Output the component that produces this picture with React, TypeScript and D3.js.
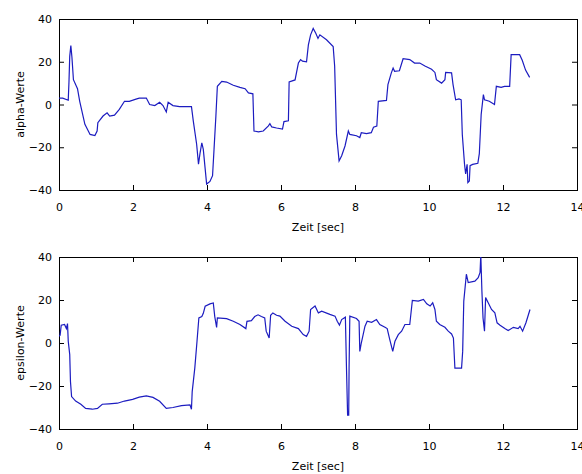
import React, { useEffect, useRef } from 'react';
import * as d3 from 'd3';

// alpha-Werte (oberer Plot)
const alphaTime = [
  0, 0.1, 0.25, 0.27, 0.29, 0.32, 0.35, 0.39, 0.5, 0.56, 0.7, 0.84, 0.97, 1.03, 1.05, 1.19, 1.3, 1.37, 1.5, 1.63,
  1.77, 1.9, 2.08, 2.17, 2.36, 2.45, 2.59, 2.72, 2.81, 2.9, 2.95, 3.08, 3.26, 3.58, 3.63, 3.72, 3.77, 3.81, 3.86, 3.9,
  3.95, 3.99, 4.08, 4.15, 4.19, 4.24, 4.28, 4.4, 4.53, 4.71, 4.89, 5.03, 5.12, 5.24, 5.27, 5.39, 5.52, 5.66, 5.7, 5.75,
  5.88, 6.04, 6.08, 6.2, 6.22, 6.38, 6.47, 6.53, 6.58, 6.69, 6.74, 6.8, 6.87, 6.94, 7.0, 7.05, 7.23, 7.41, 7.45, 7.5,
  7.57, 7.64, 7.73, 7.82, 7.86, 8.04, 8.13, 8.17, 8.31, 8.44, 8.5, 8.59, 8.63, 8.85, 8.89, 8.98, 9.03, 9.07, 9.2, 9.3,
  9.48, 9.61, 9.75, 9.89, 10.07, 10.16, 10.2, 10.34, 10.43, 10.45, 10.61, 10.65, 10.72, 10.81, 10.87, 10.9, 10.96, 10.99, 11.03, 11.05,
  11.09, 11.11, 11.18, 11.32, 11.36, 11.41, 11.47, 11.5, 11.63, 11.77, 11.82, 11.95, 12.04, 12.18, 12.22, 12.45, 12.52, 12.61, 12.72,
];
const alphaValues = [
  3, 3, 2, 10.8, 22.5, 27.6, 22, 11.6, 7.4, 1.5, -9.3, -14, -14.5, -12.4, -8.5, -5.4, -3.9, -5.4, -5, -2.3,
  1.5, 1.5, 2.5, 3, 3, 0, -0.5, 1, -0.5, -3.5, 1, -0.5, -1, -1, -7.8, -18.6, -27.9, -23, -17.9, -21,
  -30, -37.2, -36, -33.3, -21, -5.5, 8.5, 10.8, 10.5, 9, 8, 7.4, 5.4, 5, -12.4, -12.8, -12.4, -10, -9, -10.5,
  -11, -11.5, -8, -7.6, 10.6, 11.5, 19.4, 21, 20.3, 20, 27.9, 32.6, 35.6, 33.3, 30.9, 32.6, 30.3, 27.1, 18, -14,
  -26.4, -24, -19.4, -12.4, -14, -14.6, -15.5, -13.2, -13.6, -13.2, -10.6, -10.1, 1.5, 1.9, 9.3, 14.7, 17, 15.5, 15.8, 21.4,
  21, 19.4, 19.4, 18, 16.5, 15, 11.6, 10, 11.6, 15, 14.8, 9.3, 2.2, 2.6, 2.2, -14, -27.9, -32.5, -28, -36.5,
  -35.8, -28.6, -28, -27.5, -23, -4.7, 4.6, 2.2, 1.5, 0, 8.5, 8, 8.5, 8.5, 23.3, 23.3, 20.7, 16.1, 12.7,
];

// epsilon-Werte (unterer Plot)
const epsilonTime = [
  0, 0.03, 0.06, 0.15, 0.2, 0.23, 0.25, 0.29, 0.31, 0.34, 0.45, 0.59, 0.72, 0.9, 1.04, 1.17, 1.35, 1.58, 1.77, 1.99,
  2.17, 2.36, 2.54, 2.72, 2.9, 3.08, 3.31, 3.54, 3.58, 3.6, 3.67, 3.73, 3.78, 3.86, 3.9, 3.95, 4.08, 4.17, 4.21, 4.26,
  4.28, 4.53, 4.71, 4.89, 5.05, 5.08, 5.2, 5.29, 5.38, 5.47, 5.56, 5.6, 5.68, 5.72, 5.78, 5.88, 5.97, 6.11, 6.29, 6.47,
  6.6, 6.69, 6.76, 6.8, 6.92, 7.01, 7.1, 7.32, 7.46, 7.52, 7.58, 7.64, 7.74, 7.77, 7.8, 7.83, 7.84, 7.86, 8.04, 8.11,
  8.13, 8.17, 8.27, 8.33, 8.45, 8.58, 8.67, 8.81, 8.87, 8.94, 9.02, 9.08, 9.17, 9.26, 9.35, 9.48, 9.55, 9.71, 9.85, 9.94,
  10.03, 10.1, 10.16, 10.2, 10.29, 10.43, 10.52, 10.61, 10.66, 10.7, 10.88, 10.91, 10.94, 11.01, 11.06, 11.24, 11.33, 11.38, 11.4, 11.43,
  11.46, 11.5, 11.53, 11.6, 11.69, 11.78, 11.84, 11.92, 12.05, 12.14, 12.28, 12.41, 12.46, 12.53, 12.62, 12.73,
];
const epsilonValues = [
  3.1, 3.6, 8.3, 8.6, 6.7, 9, 0.8, -5.4, -17.9, -24.9, -27, -28.5, -30.4, -30.8, -30.4, -28.5, -28.3, -28, -27, -26.2,
  -25.2, -24.6, -25.3, -27.1, -30.4, -30, -29.1, -28.8, -30.8, -22.6, -11.7, 0.8, 11.7, 12.3, 13.8, 17.1, 18.2, 18.6, 12.3, 7.2,
  11.7, 11.3, 10.1, 8.6, 6.7, 10.1, 10.4, 12.3, 13.1, 12.3, 11.7, 5.5, 2.3, 12.9, 14, 12.9, 12.5, 10.1, 7.8, 6.7,
  3.9, 3.1, 5.5, 15.6, 17.2, 14, 14.8, 13.3, 12.5, 10.1, 8.3, 10.9, 12, -11.7, -33.5, -33.5, -11.7, 12.5, 11.4, 10.1,
  -3.9, 0, 7.8, 10.1, 9.6, 10.9, 8.6, 7.3, 6.7, 1.6, -3.9, 0.8, 3.9, 5.5, 8.6, 8.6, 19.8, 19.5, 20.3, 18.2,
  17.2, 18.7, 15.6, 10.1, 8.6, 7.3, 5.5, 4.2, 2.3, -11.7, -11.7, -3.9, 19.5, 32, 28.1, 28.8, 30.4, 32.8, 41, 24.1,
  11.7, 5.5, 21.1, 18.7, 15.6, 14, 9.4, 8.3, 6.7, 5.8, 7.3, 6.7, 7.8, 5.5, 9.4, 15.6,
];

const xTicks = [0, 2, 4, 6, 8, 10, 12, 14];
const yTicks = [-40, -20, 0, 20, 40];
const xLabel = 'Zeit [sec]';
const yLabels = ['alpha-Werte', 'epsilon-Werte'];

const App = () => {
  const svgRef = useRef<SVGSVGElement>(null);

  useEffect(() => {
    const width = 582;
    const height = 474;
    const left = 59;
    const right = 577;
    const panels = [
      { top: 19, bottom: 190, time: alphaTime, values: alphaValues, label: yLabels[0] },
      { top: 257, bottom: 429, time: epsilonTime, values: epsilonValues, label: yLabels[1] },
    ];

    const svg = d3.select(svgRef.current)
      .attr('width', width)
      .attr('height', height)
      .style('background-color', '#fff');
    svg.selectAll('*').remove();

    const xScale = d3.scaleLinear().domain([0, 14]).range([left, right]);
    const font = '"DejaVu Sans", sans-serif';

    panels.forEach((p, i) => {
      const yScale = d3.scaleLinear().domain([-40, 40]).range([p.bottom, p.top]);
      const g = svg.append('g');

      const clipId = `clip-${i}`;
      g.append('clipPath').attr('id', clipId)
        .append('rect')
        .attr('x', left).attr('y', p.top)
        .attr('width', right - left).attr('height', p.bottom - p.top);

      const styleAxis = (sel: d3.Selection<SVGGElement, unknown, null, undefined>) => {
        sel.select('.domain').remove();
        sel.selectAll('line').attr('stroke', '#000');
        sel.selectAll('text').attr('fill', '#000').style('font-family', font).style('font-size', '11px');
      };

      // untere und linke Achse mit Beschriftung, Ticks nach innen
      g.append('g')
        .attr('transform', `translate(0,${p.bottom})`)
        .call(d3.axisBottom(xScale).tickValues(xTicks).tickSize(-5).tickPadding(13).tickFormat(d3.format('d')))
        .call(styleAxis);
      g.append('g')
        .attr('transform', `translate(0,${p.top})`)
        .call(d3.axisTop(xScale).tickValues(xTicks).tickSize(-5).tickFormat(() => ''))
        .call(styleAxis);
      g.append('g')
        .attr('transform', `translate(${left},0)`)
        .call(d3.axisLeft(yScale).tickValues(yTicks).tickSize(-5).tickPadding(7).tickFormat(d3.format('d')))
        .call(styleAxis);
      g.append('g')
        .attr('transform', `translate(${right},0)`)
        .call(d3.axisRight(yScale).tickValues(yTicks).tickSize(-5).tickFormat(() => ''))
        .call(styleAxis);

      g.append('rect')
        .attr('x', left + 0.5).attr('y', p.top + 0.5)
        .attr('width', right - left).attr('height', p.bottom - p.top)
        .attr('fill', 'none')
        .attr('stroke', '#000')
        .attr('stroke-width', 1);

      const line = d3.line<number>()
        .x((d, k) => xScale(p.time[k]))
        .y(d => yScale(d));

      g.append('path')
        .datum(p.values)
        .attr('clip-path', `url(#${clipId})`)
        .attr('fill', 'none')
        .attr('stroke', '#1c1cc0')
        .attr('stroke-width', 1.2)
        .attr('d', line);

      g.append('text')
        .attr('x', (left + right) / 2)
        .attr('y', p.bottom + 41)
        .attr('text-anchor', 'middle')
        .style('font-family', font)
        .style('font-size', '11px')
        .text(xLabel);

      g.append('text')
        .attr('transform', `translate(24,${(p.top + p.bottom) / 2}) rotate(-90)`)
        .attr('text-anchor', 'middle')
        .style('font-family', font)
        .style('font-size', '11px')
        .text(p.label);
    });
  }, []);

  return (
    <svg ref={svgRef} style={{ position: 'absolute', left: 0, top: 0 }}></svg>
  );
};

export default App;
